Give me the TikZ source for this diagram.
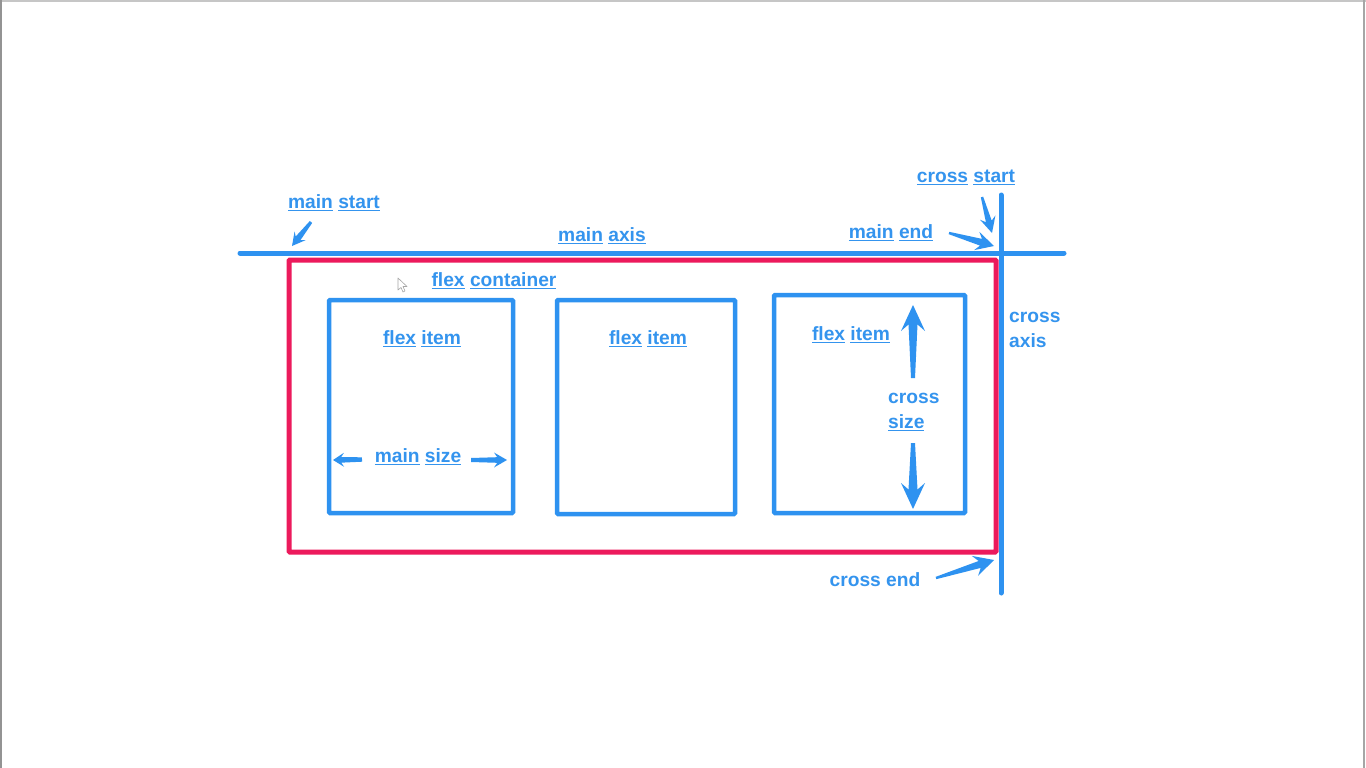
\documentclass[tikz,border=0pt]{standalone}
\usepackage{fontspec}
\setmainfont{Liberation Sans}
\usetikzlibrary{calc}
\definecolor{lblue}{RGB}{46,146,240}
\definecolor{tblue}{RGB}{52,148,238}
\definecolor{cred}{RGB}{236,26,92}
\newcommand\uw[1]{\underline{#1}}
% tapered arrow: name, tail, tip, head length, head half width, shaft half width, tail half width
\newcommand\tarrow[7]{%
  \coordinate (#1t) at (#2);
  \coordinate (#1h) at (#3);
  \coordinate (#1a) at ($(#1h)!#4!(#1t)$);
  \coordinate (#1b) at ($(#1h)!0.75*#4!(#1t)$);
  \fill[lblue, line join=round] ($(#1t)!#7!90:(#1h)$) -- ($(#1b)!#6!90:(#1h)$) -- ($(#1a)!#5!90:(#1h)$)
    -- (#1h) -- ($(#1a)!#5!-90:(#1h)$) -- ($(#1b)!#6!-90:(#1h)$) -- ($(#1t)!#7!-90:(#1h)$) -- cycle;}
\tikzset{
  lbl/.style={text=tblue, font=\bfseries\fontsize{19.2}{25}\selectfont, inner sep=0pt},
  axisline/.style={draw=lblue, line width=5pt, line cap=round},
  itembox/.style={draw=lblue, line width=4.5pt, rounded corners=1pt},
  container/.style={draw=cred, line width=5pt, rounded corners=1pt}
}
\begin{document}
\begin{tikzpicture}[x=1pt,y=-1pt]
\useasboundingbox (0,0) rectangle (1366,768);
\fill[white] (0,0) rectangle (1366,768);
% frame of the screenshot
\draw[gray!45, line width=2pt] (0,1) -- (1366,1);
\draw[gray!85, line width=2pt] (1,0) -- (1,768);
\draw[gray!70, line width=2pt] (1364,0) -- (1364,768);

% axes
\coordinate (maL) at (240,253);
\coordinate (maR) at (1064,253);
\coordinate (caT) at (1001,195);
\coordinate (caB) at (1001,593);
\draw[axisline] (maL) -- (maR);
\draw[axisline] (caT) -- (caB);

% container and items
\draw[container] (289,260) rectangle (996,552);
\draw[itembox] (329,300) rectangle (513,513);
\draw[itembox] (557,300) rectangle (735,514);
\draw[itembox] (774,295) rectangle (965,513);

% mouse cursor
\draw[gray!70, line width=0.6pt, fill=white, line join=round]
  (398,278) -- (398,290) -- (401,287.5) -- (403,292) -- (405,291) -- (403,286.5) -- (407,286.5) -- cycle;

% labels
\node[lbl] (mstart) at (334,203) {\uw{main} \uw{start}};
\node[lbl] (maxis) at (602,236) {\uw{main} \uw{axis}};
\node[lbl] (mend) at (891,233) {\uw{main} \uw{end}};
\node[lbl] (cstart) at (966,177) {\uw{cross} \uw{start}};
\node[lbl] (fcont) at (494,281) {\uw{flex} \uw{container}};
\node[lbl] (fi1) at (422,339) {\uw{flex} \uw{item}};
\node[lbl] (fi2) at (648,339) {\uw{flex} \uw{item}};
\node[lbl] (fi3) at (851,335) {\uw{flex} \uw{item}};
\node[lbl] (msize) at (418,457) {\uw{main} \uw{size}};
\node[lbl, align=left, anchor=west] (caxis) at (1009,330) {cross\\axis};
\node[lbl, align=left, anchor=west] (csize) at (888,412) {cross\\\uw{size}};
\node[lbl] (cend) at (875,580) {cross end};

% arrows
\tarrow{ams}{311,222}{292,246}{13pt}{7pt}{3pt}{1.5pt}
\tarrow{ame}{949,233}{994,246}{18pt}{9.5pt}{3.5pt}{1.2pt}
\tarrow{acs}{982,197}{992,233}{16pt}{8pt}{3pt}{1.2pt}
\tarrow{ace}{936,578}{994,560}{20pt}{10.5pt}{3.6pt}{1.2pt}
\tarrow{msl}{362,459.5}{333,460}{11pt}{7pt}{2.8pt}{2.2pt}
\tarrow{msr}{471,460}{507,460}{13pt}{7.5pt}{2.8pt}{2pt}
\tarrow{csu}{913,378}{913,305}{26pt}{12pt}{4.5pt}{2pt}
\tarrow{csd}{913,443}{913,509}{26pt}{12pt}{4.5pt}{2pt}
\end{tikzpicture}
\end{document}
